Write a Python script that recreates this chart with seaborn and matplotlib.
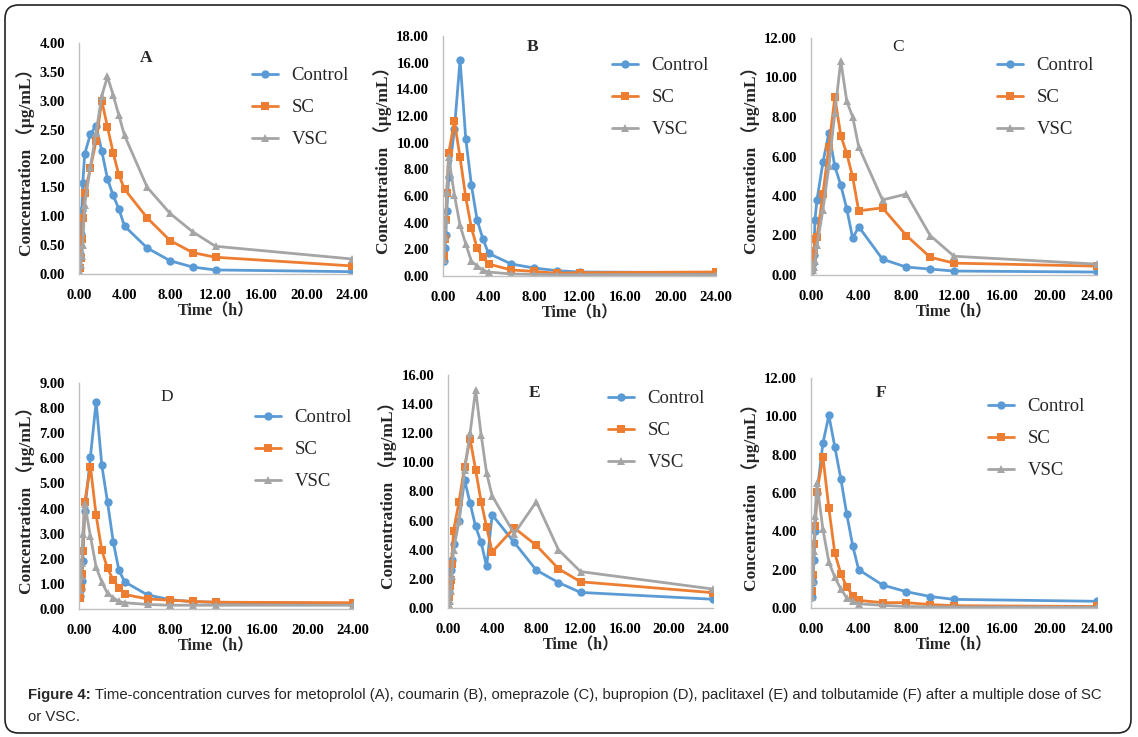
import pandas as pd
import matplotlib.pyplot as plt
import seaborn as sns
from matplotlib.patches import FancyBboxPatch
from matplotlib.ticker import FormatStrFormatter, MultipleLocator

OUT_FILE = 'out.png'

# sampling times (h)
time_h = [0.083, 0.167, 0.25, 0.333, 0.5, 1, 1.5, 2, 2.5, 3, 3.5, 4, 6, 8, 10, 12, 24]
groups = ['Control', 'SC', 'VSC']

# A - metoprolol
a_control = [0.35, 0.7, 1.1, 1.57, 2.08, 2.42, 2.57, 2.13, 1.65, 1.36, 1.13, 0.83, 0.45, 0.23, 0.12, 0.07, 0.04]
a_sc = [0.1, 0.27, 0.6, 0.97, 1.4, 1.83, 2.3, 3.0, 2.55, 2.1, 1.72, 1.47, 0.97, 0.58, 0.37, 0.29, 0.14]
a_vsc = [0.03, 0.15, 0.32, 0.5, 1.2, 1.85, 2.45, 3.08, 3.42, 3.1, 2.75, 2.4, 1.5, 1.05, 0.73, 0.48, 0.26]

# B - coumarin
b_control = [1.1, 2.1, 3.1, 4.9, 7.4, 11.0, 16.2, 10.3, 6.8, 4.2, 2.8, 1.7, 0.9, 0.6, 0.4, 0.3, 0.25]
b_sc = [1.5, 2.8, 4.2, 6.2, 9.2, 11.6, 8.9, 5.9, 3.6, 2.1, 1.4, 0.9, 0.45, 0.35, 0.2, 0.25, 0.3]
b_vsc = [1.2, 2.9, 4.2, 6.3, 8.9, 6.1, 3.8, 2.4, 1.1, 0.75, 0.45, 0.3, 0.15, 0.12, 0.1, 0.1, 0.1]

# C - omeprazole
c_control = [0.3, 0.6, 1.0, 2.8, 3.8, 5.7, 7.2, 5.5, 4.55, 3.35, 1.85, 2.45, 0.8, 0.4, 0.3, 0.2, 0.15]
c_sc = [0.3, 0.8, 1.2, 1.8, 1.9, 4.1, 6.5, 9.0, 7.05, 6.15, 4.95, 3.25, 3.4, 2.0, 0.9, 0.6, 0.45]
c_vsc = [0.1, 0.25, 0.4, 0.7, 1.5, 3.3, 5.5, 8.2, 10.85, 8.8, 8.0, 6.5, 3.8, 4.1, 2.0, 0.95, 0.55]

# D - bupropion
d_control = [0.5, 0.8, 1.1, 1.9, 3.9, 6.05, 8.25, 5.72, 4.25, 2.67, 1.54, 1.08, 0.56, 0.37, 0.29, 0.27, 0.21]
d_sc = [0.45, 0.85, 1.4, 2.3, 4.25, 5.67, 3.73, 2.33, 1.62, 1.15, 0.85, 0.58, 0.4, 0.35, 0.3, 0.27, 0.25]
d_vsc = [0.75, 1.3, 1.85, 3.0, 4.2, 2.9, 1.67, 1.07, 0.62, 0.45, 0.3, 0.25, 0.18, 0.15, 0.15, 0.15, 0.15]

# E - paclitaxel
e_control = [1.1, 1.9, 2.6, 3.3, 4.4, 6.0, 8.8, 7.2, 5.6, 4.5, 2.85, 6.4, 4.5, 2.6, 1.75, 1.07, 0.6]
e_sc = [0.75, 1.5, 1.95, 3.0, 5.3, 7.3, 9.7, 11.6, 9.5, 7.3, 5.55, 3.85, 5.5, 4.3, 2.7, 1.8, 1.05]
e_vsc = [0.3, 0.5, 1.2, 2.2, 4.0, 6.0, 9.5, 12.0, 15.0, 11.9, 9.25, 7.7, 5.1, 7.3, 4.0, 2.5, 1.3]

# F - tolbutamide
f_control = [0.6, 1.35, 2.5, 4.0, 6.0, 8.6, 10.05, 8.4, 6.75, 4.9, 3.25, 2.0, 1.2, 0.85, 0.6, 0.45, 0.35]
f_sc = [0.9, 1.7, 3.35, 4.3, 6.05, 7.9, 5.2, 2.85, 1.8, 1.1, 0.65, 0.4, 0.28, 0.28, 0.18, 0.12, 0.08]
f_vsc = [0.6, 1.4, 2.95, 4.8, 6.5, 4.1, 2.4, 1.6, 1.0, 0.52, 0.35, 0.22, 0.14, 0.08, 0.06, 0.05, 0.04]

panel_letters = ['A', 'B', 'C', 'D', 'E', 'F']
panel_data = [(a_control, a_sc, a_vsc), (b_control, b_sc, b_vsc), (c_control, c_sc, c_vsc),
              (d_control, d_sc, d_vsc), (e_control, e_sc, e_vsc), (f_control, f_sc, f_vsc)]
y_max = [4.0, 18.0, 12.0, 9.0, 16.0, 12.0]
y_step = [0.5, 2.0, 2.0, 1.0, 2.0, 2.0]
letter_bold = [True, True, False, False, True, True]

caption_bold = 'Figure 4:'
caption_line1 = (' Time-concentration curves for metoprolol (A), coumarin (B), omeprazole (C), '
                 'bupropion (D), paclitaxel (E) and tolbutamide (F) after a multiple dose of SC')
caption_line2 = 'or VSC.'

# layout in pixels of the 1138x737 canvas: (x0, x24, y0, ytop)
W, H = 1138, 737
axes_px = [(79, 352, 274, 43), (443, 716, 276, 36), (811, 1097, 275, 38),
           (79, 353, 609, 383), (448, 713, 608, 375), (811, 1097, 608, 378)]
letter_px = [(146, 58), (533, 47), (898, 47), (167, 397), (535, 393), (881, 393)]
legend_px = [(252, 77), (612, 67), (997, 67), (255, 419), (608, 400), (988, 408)]

colors = {'Control': '#5B9BD5', 'SC': '#ED7D31', 'VSC': '#A5A5A5'}
markers = {'Control': 'o', 'SC': 's', 'VSC': '^'}

sns.set_style('white')
plt.rcParams['font.family'] = ['Liberation Serif', 'Noto Sans CJK SC']
plt.rcParams['axes.edgecolor'] = '#BFBFBF'

fig = plt.figure(figsize=(W / 100, H / 100), dpi=100)

for i, letter in enumerate(panel_letters):
    x0, x1, yb, yt = axes_px[i]
    ax = fig.add_axes([x0 / W, 1 - yb / H, (x1 - x0) / W, (yb - yt) / H])

    frames = []
    for g, vals in zip(groups, panel_data[i]):
        frames.append(pd.DataFrame({'Time': time_h, 'Conc': vals, 'Group': g}))
    df = pd.concat(frames, ignore_index=True)

    sns.lineplot(data=df, x='Time', y='Conc', hue='Group', style='Group',
                 palette=colors, markers=markers, dashes=False, linewidth=2,
                 markersize=6, markeredgewidth=0, ax=ax)

    ax.set_xlim(0, 24)
    ax.set_ylim(0, y_max[i])
    ax.xaxis.set_major_locator(MultipleLocator(4))
    ax.yaxis.set_major_locator(MultipleLocator(y_step[i]))
    ax.xaxis.set_major_formatter(FormatStrFormatter('%.2f'))
    ax.yaxis.set_major_formatter(FormatStrFormatter('%.2f'))
    ax.tick_params(axis='both', which='major', length=4, width=1, color='#BFBFBF',
                   labelsize=10.5, labelcolor='black', direction='out')
    ax.tick_params(axis='y', pad=6)
    ax.tick_params(axis='x', pad=7)
    for lab in ax.get_xticklabels() + ax.get_yticklabels():
        lab.set_fontweight('bold')
    sns.despine(ax=ax)
    for side in ['left', 'bottom']:
        ax.spines[side].set_linewidth(1)

    ax.set_xlabel('Time（h）', fontsize=11.5, fontweight='bold', labelpad=1)
    ax.set_ylabel('Concentration （μg/mL）', fontsize=12.5, fontweight='bold', labelpad=3)

    handles, labels = ax.get_legend_handles_labels()
    lx, ly = legend_px[i]
    ax.legend(handles, labels, loc='upper left', frameon=False,
              bbox_to_anchor=(lx / W, 1 - (ly - 10) / H), bbox_transform=fig.transFigure,
              fontsize=13.5, handlelength=1.4, handletextpad=0.7, labelspacing=0.8,
              borderpad=0, borderaxespad=0)

    tx, ty = letter_px[i]
    fig.text(tx / W, 1 - ty / H, letter, ha='center', va='center', fontsize=12.5,
             fontweight='bold' if letter_bold[i] else 'normal')

# caption: bold lead-in, then the rest placed right after it
bold_txt = fig.text(28 / W, 1 - 695 / H, caption_bold, ha='left', va='center',
                    fontsize=10.75, fontweight='bold', family='Liberation Sans')
fig.canvas.draw()
bb = bold_txt.get_window_extent()
fig.text(bb.x1 / W, 1 - 695 / H, caption_line1, ha='left', va='center',
         fontsize=10.75, family='Liberation Sans')
fig.text(28 / W, 1 - 717 / H, caption_line2, ha='left', va='center',
         fontsize=10.75, family='Liberation Sans')

# rounded frame around the whole figure
frame = FancyBboxPatch((5 / W, 4 / H), 1126 / W, 728 / H,
                       boxstyle='round,pad=0,rounding_size=0.012',
                       transform=fig.transFigure, fill=False, edgecolor='#222222',
                       linewidth=1.2, mutation_aspect=W / H)
fig.patches.append(frame)

plt.savefig(OUT_FILE, dpi=100)
